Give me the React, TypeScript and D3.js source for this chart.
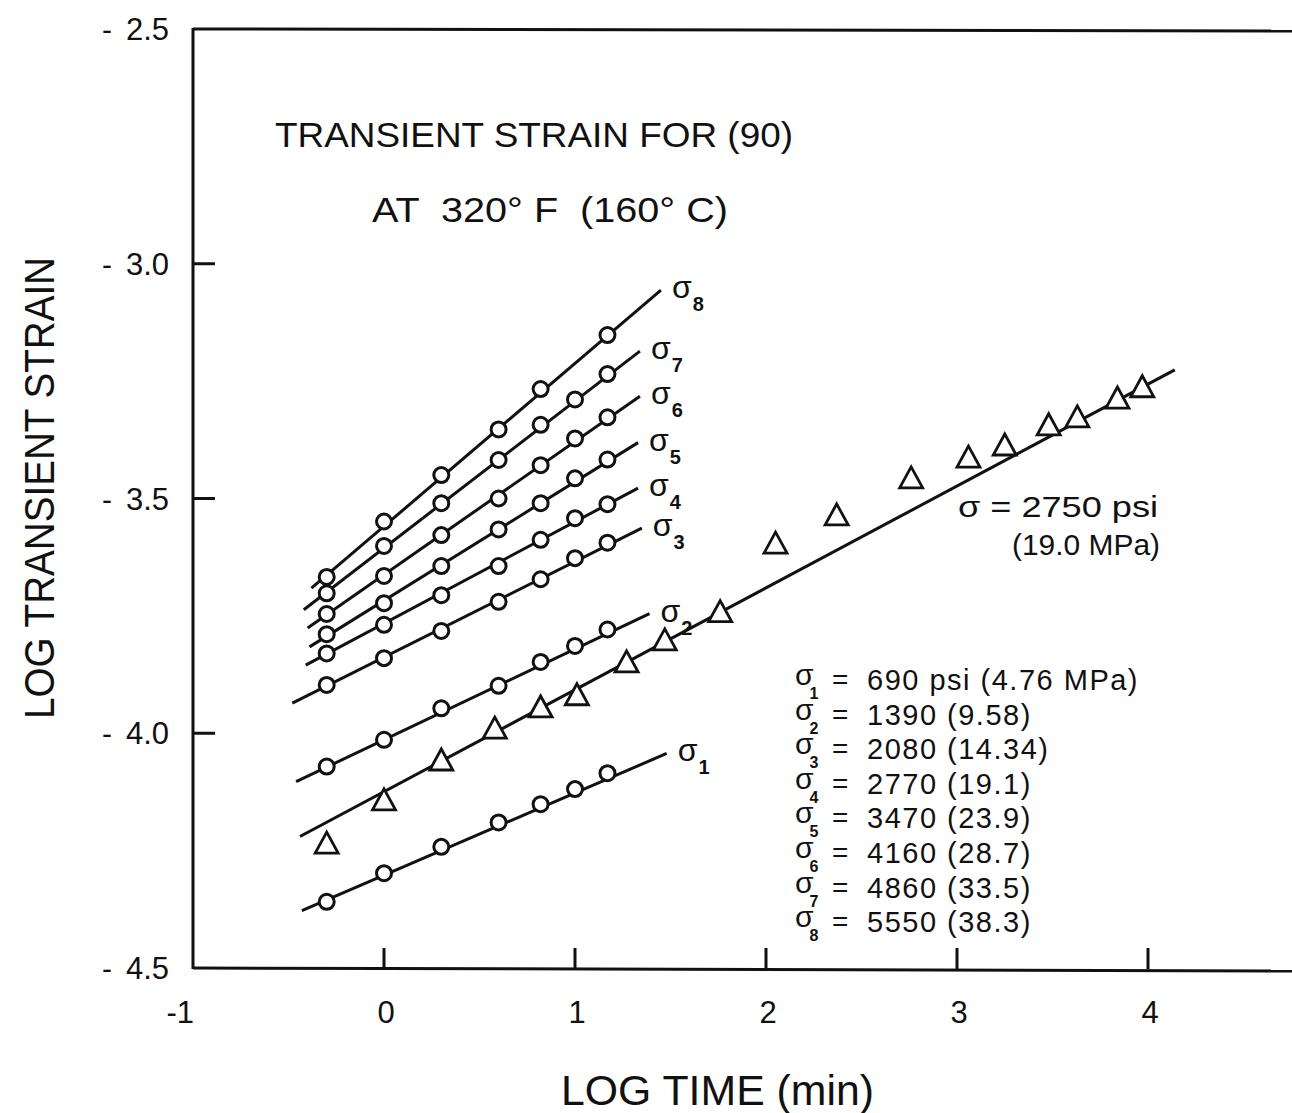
import React from "react";
import * as d3 from "d3";

// ---------- data ----------
const logTimes = [-0.3, 0, 0.3, 0.6, 0.82, 1.0, 1.17];
const sigma1 = [-4.359, -4.298, -4.242, -4.19, -4.151, -4.119, -4.085];
const sigma2 = [-4.071, -4.014, -3.947, -3.899, -3.848, -3.814, -3.779];
const sigma3 = [-3.897, -3.84, -3.782, -3.72, -3.672, -3.627, -3.594];
const sigma4 = [-3.83, -3.769, -3.706, -3.644, -3.588, -3.542, -3.512];
const sigma5 = [-3.789, -3.723, -3.644, -3.566, -3.51, -3.457, -3.417];
const sigma6 = [-3.746, -3.665, -3.578, -3.5, -3.429, -3.372, -3.327];
const sigma7 = [-3.702, -3.601, -3.51, -3.418, -3.343, -3.289, -3.235];
const sigma8 = [-3.667, -3.549, -3.45, -3.353, -3.267, null, -3.152];
const seriesNames = ["1", "2", "3", "4", "5", "6", "7", "8"];
// fitted lines: [logTimeStart, strainStart, logTimeEnd, strainEnd]
const fit1 = [-0.43, -4.378, 1.48, -4.043];
const fit2 = [-0.46, -4.103, 1.39, -3.745];
const fit3 = [-0.48, -3.936, 1.35, -3.563];
const fit4 = [-0.41, -3.855, 1.33, -3.478];
const fit5 = [-0.39, -3.816, 1.33, -3.381];
const fit6 = [-0.4, -3.776, 1.34, -3.282];
const fit7 = [-0.42, -3.737, 1.34, -3.186];
const fit8 = [-0.38, -3.691, 1.45, -3.056];

const triTimes = [-0.3, 0, 0.3, 0.58, 0.82, 1.01, 1.27, 1.47, 1.76, 2.05, 2.37, 2.76, 3.06, 3.25, 3.48, 3.63, 3.84, 3.97];
const triStrain = [-4.234, -4.142, -4.057, -3.989, -3.944, -3.918, -3.848, -3.801, -3.741, -3.595, -3.535, -3.456, -3.412, -3.386, -3.343, -3.326, -3.286, -3.262];
const triLine = [-0.44, -4.22, 4.14, -3.226];

const legendValues = [
  "690 psi (4.76 MPa)",
  "1390 (9.58)",
  "2080 (14.34)",
  "2770 (19.1)",
  "3470 (23.9)",
  "4160 (28.7)",
  "4860 (33.5)",
  "5550 (38.3)",
];

const yTicks = [-2.5, -3.0, -3.5, -4.0, -4.5];
const yTickLabels = ["-2.5", "-3.0", "-3.5", "-4.0", "-4.5"];
const xTicks = [-1, 0, 1, 2, 3, 4];
const xTickLabels = ["-1", "0", "1", "2", "3", "4"];

const titleLine1 = "TRANSIENT STRAIN FOR (90)";
const titleLine2 = "AT  320° F  (160° C)";
const xTitle = "LOG TIME (min)";
const yTitle = "LOG TRANSIENT STRAIN";
const triNote1 = "σ = 2750 psi";
const triNote2 = "(19.0 MPa)";

// ---------- chart ----------
const W = 1292;
const H = 1113;
const FONT = "'Liberation Sans', Arial, sans-serif";

export default function App() {
  const x = d3.scaleLinear().domain([-1, 4]).range([193, 1148]);
  const y = d3.scaleLinear().domain([-2.5, -4.5]).range([29, 968]);

  const series = [sigma1, sigma2, sigma3, sigma4, sigma5, sigma6, sigma7, sigma8];
  const fits = [fit1, fit2, fit3, fit4, fit5, fit6, fit7, fit8];

  const lineGen = d3
    .line<[number, number]>()
    .x((d) => x(d[0]))
    .y((d) => y(d[1]));

  const triPath = "M0,-11 L11.5,10 L-11.5,10 Z";
  const black = "#111";
  const sw = 3;

  const legendTop = 690;
  const legendStep = 34.6;

  return (
    <svg
      width={W}
      height={H}
      style={{ position: "absolute", left: 0, top: 0, background: "#fff" }}
      fontFamily={FONT}
    >
      <rect width={W} height={H} fill="#fff" />

      {/* frame */}
      <line x1={x(-1)} y1={y(-2.5)} x2={W} y2={y(-2.5) + 2} stroke={black} strokeWidth={3} />
      <line x1={x(-1)} y1={y(-4.5)} x2={W} y2={y(-4.5) + 3} stroke={black} strokeWidth={3} />
      <line x1={x(-1)} y1={y(-2.5) - 1} x2={x(-1)} y2={y(-4.5) + 1} stroke={black} strokeWidth={3} />

      {/* y ticks */}
      {yTicks.map((t, i) => (
        <g key={"yt" + i} fill={black}>
          {i > 0 && i < yTicks.length - 1 && (
            <line x1={x(-1)} x2={x(-1) + 22} y1={y(t)} y2={y(t)} stroke={black} strokeWidth={3} />
          )}
          <text x={169} y={y(t) + 11} textAnchor="end" fontSize={31}>
            <tspan fontSize={30}>{yTickLabels[i].slice(0, 1)}</tspan>
            <tspan dx={14}>{yTickLabels[i].slice(1)}</tspan>
          </text>
        </g>
      ))}

      {/* x ticks */}
      {xTicks.map((t, i) => (
        <g key={"xt" + i}>
          {i > 0 && (
            <line x1={x(t)} x2={x(t)} y1={y(-4.5) + 1} y2={y(-4.5) - 20} stroke={black} strokeWidth={3} />
          )}
          <text
            x={i === 0 ? x(t) + 1 : x(t) + 2}
            y={1023}
            textAnchor={i === 0 ? "end" : "middle"}
            fontSize={31}
            fill={black}
          >
            {xTickLabels[i]}
          </text>
        </g>
      ))}

      {/* axis titles */}
      <text x={561} y={1105} fontSize={42} textLength={313} lengthAdjust="spacingAndGlyphs" fill={black}>
        {xTitle}
      </text>
      <text
        transform={`translate(54, ${488}) rotate(-90)`}
        textAnchor="middle"
        fontSize={42}
        textLength={462}
        lengthAdjust="spacingAndGlyphs"
        fill={black}
      >
        {yTitle}
      </text>

      {/* chart title */}
      <text x={275} y={147} fontSize={35} textLength={518} lengthAdjust="spacingAndGlyphs" fill={black}>
        {titleLine1}
      </text>
      <text
        x={372}
        y={222}
        fontSize={35}
        textLength={356}
        lengthAdjust="spacingAndGlyphs"
        fill={black}
        style={{ whiteSpace: "pre" }}
      >
        {titleLine2}
      </text>

      {/* triangle series line */}
      <path
        d={lineGen([
          [triLine[0], triLine[1]],
          [triLine[2], triLine[3]],
        ]) || ""}
        fill="none"
        stroke={black}
        strokeWidth={sw}
      />

      {/* circle series lines */}
      {fits.map((f, i) => (
        <path
          key={"fl" + i}
          d={lineGen([
            [f[0], f[1]],
            [f[2], f[3]],
          ]) || ""}
          fill="none"
          stroke={black}
          strokeWidth={sw}
        />
      ))}

      {/* circles */}
      {series.map((vals, si) =>
        vals.map((v, j) =>
          v === null ? null : (
            <circle
              key={`c${si}-${j}`}
              cx={x(logTimes[j])}
              cy={y(v)}
              r={7.5}
              fill="#fff"
              stroke={black}
              strokeWidth={3}
            />
          )
        )
      )}

      {/* triangles */}
      {triTimes.map((t, i) => (
        <path
          key={"tr" + i}
          d={triPath}
          transform={`translate(${x(t)}, ${y(triStrain[i])})`}
          fill="#fff"
          stroke={black}
          strokeWidth={2.8}
          strokeLinejoin="miter"
        />
      ))}

      {/* series labels at line ends */}
      {fits.map((f, i) => {
        const ex = x(f[2]);
        const ey = y(f[3]);
        return (
          <text key={"sl" + i} x={ex + 11} y={ey + 8} fontSize={32} fill={black}>
            <tspan>σ</tspan>
            <tspan dx={1} dy={13} fontSize={20} fontWeight="bold">
              {seriesNames[i]}
            </tspan>
          </text>
        );
      })}

      {/* triangle series annotation */}
      <text x={958} y={517} fontSize={30} fill={black} textLength={200} lengthAdjust="spacingAndGlyphs">
        {triNote1}
      </text>
      <text x={1012} y={555} fontSize={30} fill={black} textLength={148} lengthAdjust="spacingAndGlyphs">
        {triNote2}
      </text>

      {/* stress legend */}
      {legendValues.map((s, i) => {
        const by = legendTop + i * legendStep;
        return (
          <g key={"lg" + i} fill={black}>
            <text x={795} y={by - 5} fontSize={30}>
              <tspan>σ</tspan>
              <tspan dx={-4} dy={14} fontSize={16} fontWeight="bold">
                {seriesNames[i]}
              </tspan>
            </text>
            <text x={832} y={by - 1} fontSize={28}>
              =
            </text>
            <text x={867} y={by} fontSize={29} letterSpacing={1.5}>
              {s}
            </text>
          </g>
        );
      })}
    </svg>
  );
}
